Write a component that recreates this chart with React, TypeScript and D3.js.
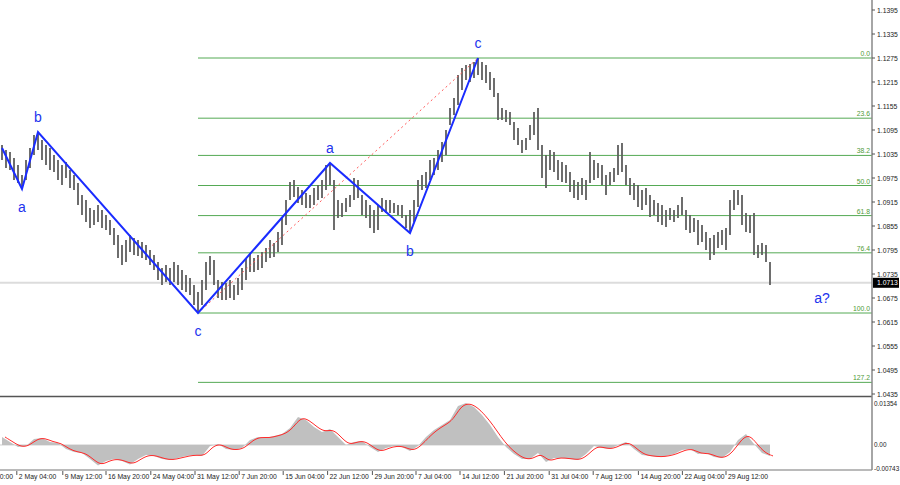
import { useRef, useEffect } from 'react';
import * as d3 from 'd3';

// H4 bars, one entry per drawn bar
const highs = [
  1.10575, 1.1045, 1.104, 1.1025, 1.10075, 1.09825, 1.102, 1.105, 1.10825, 1.109,
  1.107, 1.10575, 1.105, 1.10325, 1.102, 1.10075, 1.1015, 1.0995, 1.09825, 1.09625,
  1.09325, 1.092, 1.09, 1.0895, 1.09075, 1.0895, 1.08825, 1.087, 1.085, 1.08325,
  1.08075, 1.082, 1.08325, 1.0825, 1.082, 1.0815, 1.08075, 1.0795, 1.07825, 1.0765,
  1.075, 1.07575, 1.075, 1.0765, 1.07575, 1.0745, 1.07325, 1.0725, 1.07075, 1.069,
  1.072, 1.0765, 1.078, 1.077, 1.072, 1.0715, 1.07125, 1.072, 1.07075, 1.0725,
  1.075, 1.0775, 1.07875, 1.0775, 1.07825, 1.079, 1.08, 1.082, 1.08125, 1.084,
  1.0875, 1.092, 1.0965, 1.097, 1.09525, 1.0945, 1.09375, 1.09325, 1.095, 1.09575,
  1.097, 1.10075, 1.10125, 1.097, 1.092, 1.09125, 1.0925, 1.09325, 1.0975, 1.097,
  1.09325, 1.092, 1.09075, 1.0895, 1.09075, 1.0925, 1.092, 1.092, 1.09125, 1.09075,
  1.09075, 1.08825, 1.0895, 1.092, 1.097, 1.09825, 1.099, 1.102, 1.1025, 1.1045,
  1.1065, 1.1095, 1.115, 1.1175, 1.12325, 1.125, 1.12575, 1.126, 1.1265, 1.1275,
  1.1265, 1.12575, 1.124, 1.1225, 1.11875, 1.115, 1.1145, 1.114, 1.1115, 1.11,
  1.107, 1.1075, 1.11075, 1.114, 1.115, 1.10575, 1.10325, 1.1045, 1.104, 1.102,
  1.1015, 1.10075, 1.099, 1.097, 1.0965, 1.0975, 1.097, 1.104, 1.102, 1.10125,
  1.10075, 1.09825, 1.099, 1.1, 1.10575, 1.10625, 1.10075, 1.0975, 1.09625, 1.09575,
  1.0945, 1.095, 1.09325, 1.092, 1.09125, 1.09075, 1.0895, 1.09, 1.0895, 1.09075,
  1.09275, 1.0895, 1.08825, 1.0875, 1.087, 1.08575, 1.084, 1.0825, 1.08325, 1.084,
  1.0845, 1.085, 1.092, 1.0945, 1.0945, 1.09325, 1.08875, 1.08825, 1.08875, 1.08075,
  1.08125, 1.08075, 1.0765,
];

const lows = [
  1.102, 1.1, 1.0995, 1.097, 1.09625, 1.09475, 1.097, 1.1, 1.10325, 1.1045,
  1.102, 1.10075, 1.0995, 1.099, 1.097, 1.09575, 1.0975, 1.095, 1.0945, 1.09075,
  1.08825, 1.0865, 1.085, 1.08575, 1.0865, 1.085, 1.0845, 1.08325, 1.08075, 1.0775,
  1.07575, 1.0765, 1.079, 1.07825, 1.078, 1.0775, 1.077, 1.07575, 1.0745, 1.072,
  1.07075, 1.0715, 1.07075, 1.0715, 1.07075, 1.0695, 1.069, 1.06825, 1.06575, 1.06375,
  1.06575, 1.0695, 1.07325, 1.07075, 1.0675, 1.067, 1.067, 1.0675, 1.067, 1.06825,
  1.0695, 1.072, 1.074, 1.074, 1.0745, 1.075, 1.0765, 1.0775, 1.07775, 1.079,
  1.08075, 1.08575, 1.092, 1.09275, 1.09125, 1.09075, 1.09, 1.09, 1.09075, 1.092,
  1.0925, 1.0945, 1.09575, 1.0845, 1.0875, 1.08775, 1.089, 1.09025, 1.092, 1.0925,
  1.08825, 1.0875, 1.085, 1.08375, 1.0845, 1.089, 1.08875, 1.08875, 1.08875, 1.08825,
  1.0875, 1.085, 1.08375, 1.0865, 1.09025, 1.0945, 1.095, 1.097, 1.09825, 1.0995,
  1.1015, 1.10325, 1.11075, 1.11325, 1.11575, 1.1195, 1.122, 1.1215, 1.1225, 1.12325,
  1.122, 1.12125, 1.1195, 1.11775, 1.112, 1.112, 1.1115, 1.11075, 1.107, 1.10575,
  1.10375, 1.1045, 1.107, 1.10825, 1.1045, 1.0975, 1.095, 1.0995, 1.099, 1.097,
  1.0965, 1.09625, 1.094, 1.0925, 1.092, 1.09325, 1.092, 1.09625, 1.097, 1.0975,
  1.09575, 1.09325, 1.09575, 1.0965, 1.09825, 1.099, 1.09575, 1.09325, 1.092, 1.09025,
  1.0895, 1.09075, 1.08775, 1.08825, 1.0865, 1.08575, 1.08525, 1.087, 1.0865, 1.0875,
  1.08825, 1.0845, 1.08375, 1.084, 1.08075, 1.0815, 1.0795, 1.077, 1.07825, 1.08,
  1.08075, 1.0795, 1.08325, 1.0895, 1.09075, 1.08575, 1.084, 1.08375, 1.07825, 1.0775,
  1.07825, 1.0765, 1.07075,
];

// OsMA, one value every second bar
const osma = [
  0.00258, 0.00097, -0.00064, -0.00032, 0.00193, 0.00225, 0.00097, 0.00064, -0.00129, -0.00225,
  -0.00258, -0.00451, -0.0066, -0.00515, -0.00451, -0.00515, -0.0063, -0.00451, -0.00322, -0.00354,
  -0.00451, -0.00483, -0.00419, -0.00354, -0.00322, -0.00354, -0.00032, 0.00032, -0.00129, -0.00161,
  -0.00097, 0.00161, 0.00258, 0.00225, 0.0029, 0.00354, 0.00547, 0.00902, 0.00805, 0.0058,
  0.00419, 0.00515, 0.00258, 0, 0.00097, 0.00129, -0.00064, -0.00225, -0.00097, -0.00032,
  -0.00064, -0.00193, -0.00032, 0.00258, 0.00483, 0.00644, 0.00805, 0.01256, 0.01354, 0.01224,
  0.00966, 0.00644, 0.00258, -0.00064, -0.0029, -0.00451, -0.00451, -0.00258, -0.00547, -0.00419,
  -0.00419, -0.00451, -0.00483, -0.0029, -0.00032, -0.00097, -0.00129, 0, 0.00097, -0.00129,
  -0.00322, -0.00354, -0.00386, -0.00354, -0.0029, -0.00161, -0.00129, -0.0029, -0.00258, -0.00386,
  -0.00419, -0.00225, 0.00161, 0.00354, 0.00032, -0.00258, -0.00354,
];

const priceTicks = [
  1.1395, 1.1335, 1.1275, 1.1215, 1.1155, 1.1095, 1.1035, 1.0975,
  1.0915, 1.0855, 1.0795, 1.0735, 1.0675, 1.0615, 1.0555, 1.0495, 1.0435,
];
const oscTicks = [0.01354, 0, -0.00743];
const oscTickText = ['0.01354', '0.00', '-0.00743'];

const timeSlots = [
  -7.4, 3.7, 15.2, 26, 37.2, 48.25, 59.3, 70.3, 81.4, 92.6, 103.5,
  114.5, 125.6, 136.8, 147.8, 159.1, 170.1, 181,
];
const timeLabels = [
  '24 Apr 20:00', '2 May 04:00', '9 May 12:00', '16 May 20:00', '24 May 04:00',
  '31 May 12:00', '7 Jun 20:00', '15 Jun 04:00', '22 Jun 12:00', '29 Jun 20:00',
  '7 Jul 04:00', '14 Jul 12:00', '21 Jul 20:00', '31 Jul 04:00', '7 Aug 12:00',
  '14 Aug 20:00', '22 Aug 04:00', '29 Aug 12:00',
];

const fibLevels = [0, 23.6, 38.2, 50, 61.8, 76.4, 100, 127.2];
const fibHigh = 1.1275;
const fibLow = 1.06375;
const fibStartBar = 49;

// wave count: [bar, price]
const wavePoints: [number, number][] = [
  [0, 1.105], [5, 1.09475], [9, 1.109], [49, 1.06375],
  [82, 1.10125], [102, 1.08375], [119, 1.1275],
];
const waveLabels = ['', 'a', 'b', 'c', 'a', 'b', 'c'];
const forecastLabel = { bar: 205, price: 1.0675, text: 'a?' };
const lastPrice = 1.0713;

export default function App() {
  const svgRef = useRef<SVGSVGElement>(null);

  useEffect(() => {
    if (!svgRef.current) return;
    const svg = d3.select(svgRef.current);
    svg.selectAll('*').remove();

    const W = 900;
    const axisX = 872;
    const mainBottom = 396;
    const oscBottom = 470;
    const font = "'Liberation Sans', Arial, sans-serif";

    const x = d3.scaleLinear().domain([0, 192]).range([2, 770]);
    const y = d3.scaleLinear().domain([1.0435, 1.1395]).range([394, 10]);
    const oy = d3.scaleLinear().domain([-0.00743, 0.01354]).range([468, 403]);

    svg.append('rect').attr('width', W).attr('height', 485).attr('fill', '#fff');

    // current price line
    svg.append('line')
      .attr('x1', 0).attr('x2', axisX)
      .attr('y1', y(lastPrice)).attr('y2', y(lastPrice))
      .attr('stroke', '#dcdcdc').attr('stroke-width', 2);

    // fibo levels
    const fibY = (l: number) => y(fibHigh - ((fibHigh - fibLow) * l) / 100);
    svg.selectAll('.fib')
      .data(fibLevels)
      .enter()
      .append('line')
      .attr('x1', x(fibStartBar)).attr('x2', axisX)
      .attr('y1', (d) => fibY(d)).attr('y2', (d) => fibY(d))
      .attr('stroke', '#55aa55').attr('stroke-width', 1);
    svg.selectAll('.fib-label')
      .data(fibLevels)
      .enter()
      .append('text')
      .attr('x', axisX - 2)
      .attr('y', (d) => fibY(d) - 2)
      .attr('text-anchor', 'end')
      .attr('fill', '#4f9a36')
      .attr('font-family', font)
      .attr('font-size', '6.8px')
      .text((d) => d.toFixed(1));

    // bars
    svg.selectAll('.bar')
      .data(highs)
      .enter()
      .append('line')
      .attr('x1', (_, i) => x(i)).attr('x2', (_, i) => x(i))
      .attr('y1', (d) => y(d))
      .attr('y2', (_, i) => y(lows[i]))
      .attr('stroke', '#5e5e5e')
      .attr('stroke-width', 1.8);

    // dotted trend line c-c
    const p0 = wavePoints[3];
    const p1 = wavePoints[6];
    svg.append('line')
      .attr('x1', x(p0[0])).attr('y1', y(p0[1]))
      .attr('x2', x(p1[0])).attr('y2', y(p1[1]))
      .attr('stroke', '#ff5a5a').attr('stroke-width', 1)
      .attr('stroke-dasharray', '2,3');

    // wave zigzag
    const zig = d3.line<[number, number]>().x((d) => x(d[0])).y((d) => y(d[1]));
    svg.append('path')
      .attr('d', zig(wavePoints))
      .attr('fill', 'none')
      .attr('stroke', '#1a2cff')
      .attr('stroke-width', 2);

    svg.selectAll('.wave-label')
      .data(wavePoints.slice(1))
      .enter()
      .append('text')
      .attr('x', (d) => x(d[0]))
      .attr('y', (d, i) => {
        const prev = wavePoints[i][1];
        return d[1] > prev ? y(d[1]) - 15 : y(d[1]) + 18;
      })
      .attr('text-anchor', 'middle')
      .attr('dominant-baseline', 'central')
      .attr('fill', '#2233ee')
      .attr('font-family', font)
      .attr('font-size', '14px')
      .text((_, i) => waveLabels[i + 1]);

    svg.append('text')
      .attr('x', x(forecastLabel.bar))
      .attr('y', y(forecastLabel.price))
      .attr('text-anchor', 'middle')
      .attr('dominant-baseline', 'central')
      .attr('fill', '#2233ee')
      .attr('font-family', font)
      .attr('font-size', '14px')
      .text(forecastLabel.text);

    // oscillator
    const oscX = (_: number, j: number) => x(j * 2);
    const zeroY = oy(0);
    svg.append('line')
      .attr('x1', 0).attr('x2', x((osma.length - 1) * 2))
      .attr('y1', zeroY).attr('y2', zeroY)
      .attr('stroke', '#cfcfcf');
    const area = d3.area<number>()
      .x(oscX)
      .y0(zeroY)
      .y1((d) => oy(d));
    svg.append('path').attr('d', area(osma)).attr('fill', '#c0c0c0');
    const sig = d3.line<number>()
      .x((d, j) => oscX(d, j) + 3)
      .y((d) => oy(d))
      .curve(d3.curveBasis);
    svg.append('path')
      .attr('d', sig(osma))
      .attr('fill', 'none')
      .attr('stroke', '#ff2a2a')
      .attr('stroke-width', 1);

    // frame
    svg.append('line')
      .attr('x1', 0).attr('x2', axisX)
      .attr('y1', mainBottom + 0.5).attr('y2', mainBottom + 0.5)
      .attr('stroke', '#555').attr('stroke-width', 1.5);
    svg.append('line')
      .attr('x1', 0).attr('x2', axisX)
      .attr('y1', oscBottom).attr('y2', oscBottom)
      .attr('stroke', '#777').attr('stroke-width', 1.2);
    svg.append('line')
      .attr('x1', axisX).attr('x2', axisX)
      .attr('y1', 0).attr('y2', oscBottom)
      .attr('stroke', '#888').attr('stroke-width', 1.5);

    // price axis
    const pt = svg.selectAll('.ptick').data(priceTicks).enter().append('g');
    pt.append('line')
      .attr('x1', axisX).attr('x2', axisX + 3)
      .attr('y1', (d) => y(d)).attr('y2', (d) => y(d))
      .attr('stroke', '#555');
    pt.append('text')
      .attr('x', axisX + 5)
      .attr('y', (d) => y(d))
      .attr('dominant-baseline', 'central')
      .attr('fill', '#222')
      .attr('font-family', font)
      .attr('font-size', '6.8px')
      .text((d) => d.toFixed(4));

    svg.append('rect')
      .attr('x', axisX + 1).attr('y', y(lastPrice) - 5)
      .attr('width', 26).attr('height', 10)
      .attr('fill', '#000');
    svg.append('text')
      .attr('x', axisX + 5).attr('y', y(lastPrice))
      .attr('dominant-baseline', 'central')
      .attr('fill', '#fff')
      .attr('font-family', font)
      .attr('font-size', '6.8px')
      .text(lastPrice.toFixed(4));

    svg.selectAll('.otick')
      .data(oscTicks)
      .enter()
      .append('text')
      .attr('x', axisX + 2)
      .attr('y', (d) => oy(d))
      .attr('dominant-baseline', 'central')
      .attr('fill', '#222')
      .attr('font-family', font)
      .attr('font-size', '6.4px')
      .text((_, i) => oscTickText[i]);

    // time axis
    const tt = svg.selectAll('.ttick').data(timeSlots).enter().append('g');
    tt.append('line')
      .attr('x1', (d) => x(d)).attr('x2', (d) => x(d))
      .attr('y1', oscBottom + 1).attr('y2', oscBottom + 5)
      .attr('stroke', '#555');
    tt.append('text')
      .attr('x', (d) => x(d) + 2)
      .attr('y', oscBottom + 9)
      .attr('fill', '#222')
      .attr('font-family', font)
      .attr('font-size', '6.8px')
      .text((_, i) => timeLabels[i]);
  }, []);

  return (
    <div style={{ position: 'fixed', left: 0, top: 0 }}>
      <svg ref={svgRef} width={900} height={485} style={{ display: 'block' }} />
    </div>
  );
}
